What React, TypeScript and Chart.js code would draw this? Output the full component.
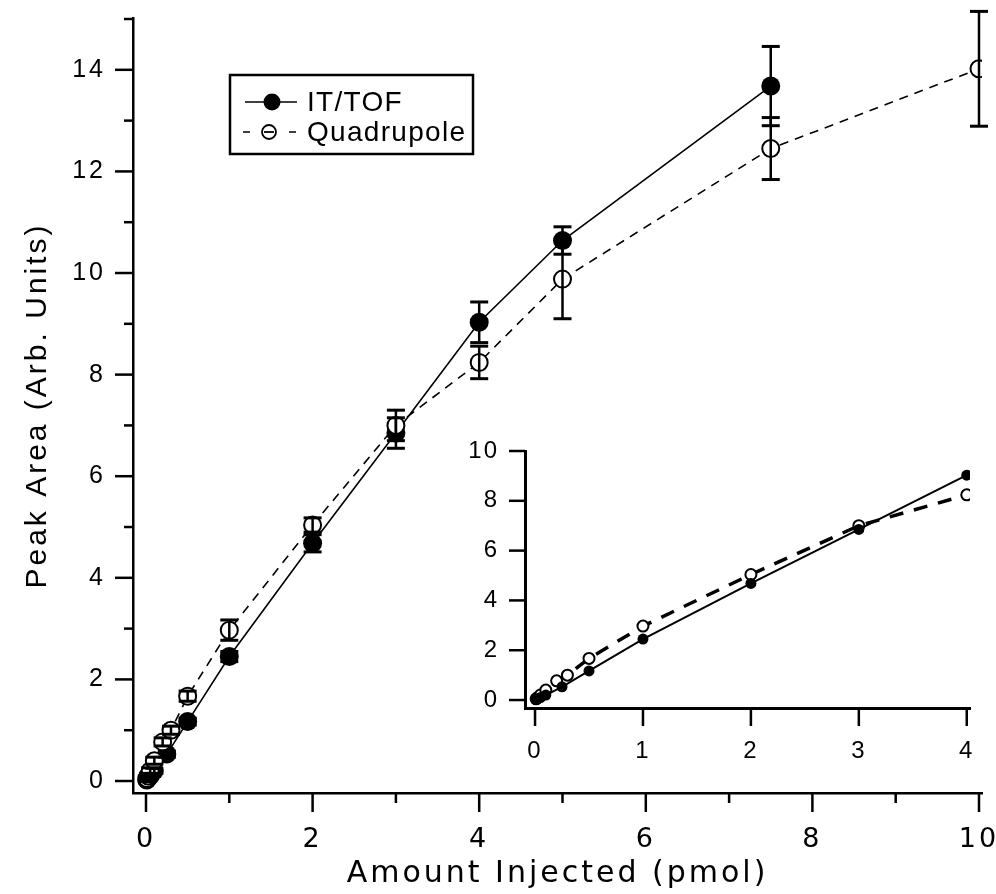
import React, { useEffect, useRef } from "react";
import { Chart, registerables } from "chart.js";

Chart.register(...registerables);

// ---- data ----
const seriesNames = ["IT/TOF", "Quadrupole"];
const xTitle = "Amount Injected (pmol)";
const yTitle = "Peak Area (Arb. Units)";

const amountItTof = [0.01, 0.025, 0.05, 0.1, 0.25, 0.5, 1, 2, 3, 4, 5, 7.5];
const areaItTof = [0.02, 0.06, 0.1, 0.2, 0.53, 1.17, 2.45, 4.68, 6.85, 9.03, 10.64, 13.68];
const errItTof = [0.03, 0.03, 0.04, 0.05, 0.06, 0.07, 0.1, 0.17, 0.3, 0.4, 0.27, 0.78];

const amountQuad = [0.01, 0.025, 0.05, 0.1, 0.2, 0.3, 0.5, 1, 2, 3, 4, 5, 7.5, 10];
const areaQuad = [0.05, 0.1, 0.2, 0.4, 0.77, 1.0, 1.67, 2.97, 5.04, 7.0, 8.24, 9.88, 12.45, 14.02];
const errQuad = [0.05, 0.05, 0.06, 0.07, 0.08, 0.08, 0.1, 0.2, 0.14, 0.3, 0.32, 0.78, 0.61, 1.13];

const mainXMajor = [0, 2, 4, 6, 8, 10];
const mainXMinor = [1, 3, 5, 7, 9];
const mainYMajor = [0, 2, 4, 6, 8, 10, 12, 14];
const mainYMinor = [1, 3, 5, 7, 9, 11, 13, 15];

const insetXMajor = [0, 1, 2, 3, 4];
const insetYMajor = [0, 2, 4, 6, 8, 10];
const insetMaxAmount = 4;

const toPoints = (xs: number[], ys: number[]) => xs.map((x, i) => ({ x, y: ys[i] }));

// ---- plugins ----
const spacingPlugin = {
  id: "spacing",
  beforeDraw(chart: any, _a: any, opts: any) {
    chart.ctx.letterSpacing = (opts.px || 0) + "px";
  },
};

const tickMarksPlugin = {
  id: "tickMarks",
  afterDraw(chart: any, _a: any, opts: any) {
    const ctx = chart.ctx;
    const area = chart.chartArea;
    const xs = chart.scales.x;
    const ys = chart.scales.y;
    ctx.save();
    ctx.strokeStyle = "#000";
    ctx.lineWidth = opts.width;
    ctx.lineCap = "butt";
    const drawX = (vals: number[], len: number) =>
      vals.forEach((v) => {
        const p = xs.getPixelForValue(v);
        ctx.beginPath();
        ctx.moveTo(p, area.bottom);
        ctx.lineTo(p, area.bottom + len);
        ctx.stroke();
      });
    const drawY = (vals: number[], len: number) =>
      vals.forEach((v) => {
        const p = ys.getPixelForValue(v);
        ctx.beginPath();
        ctx.moveTo(area.left, p);
        ctx.lineTo(area.left - len, p);
        ctx.stroke();
      });
    drawX(opts.xMajor || [], opts.xMajorLen);
    drawX(opts.xMinor || [], opts.xMinorLen);
    drawY(opts.yMajor || [], opts.yMajorLen);
    drawY(opts.yMinor || [], opts.yMinorLen);
    ctx.restore();
  },
};

const errorBarsPlugin = {
  id: "errorBars",
  afterDatasetsDraw(chart: any, _a: any, opts: any) {
    if (!opts || !opts.enabled) return;
    const ctx = chart.ctx;
    const ys = chart.scales.y;
    ctx.save();
    ctx.strokeStyle = "#000";
    chart.data.datasets.forEach((ds: any, i: number) => {
      const errs: number[] | undefined = ds.errors;
      if (!errs) return;
      const meta = chart.getDatasetMeta(i);
      meta.data.forEach((pt: any, j: number) => {
        const v = ds.data[j].y;
        const e = errs[j];
        const top = ys.getPixelForValue(v + e);
        const bot = ys.getPixelForValue(v - e);
        ctx.lineWidth = opts.lineWidth;
        ctx.beginPath();
        ctx.moveTo(pt.x, top);
        ctx.lineTo(pt.x, bot);
        ctx.stroke();
        ctx.lineWidth = opts.capWidth;
        [top, bot].forEach((yy) => {
          ctx.beginPath();
          ctx.moveTo(pt.x - opts.capHalf, yy);
          ctx.lineTo(pt.x + opts.capHalf, yy);
          ctx.stroke();
        });
      });
    });
    ctx.restore();
  },
};

const legendPlugin = {
  id: "boxLegend",
  afterDraw(chart: any, _a: any, opts: any) {
    if (!opts || !opts.enabled) return;
    const ctx = chart.ctx;
    const a = chart.chartArea;
    const bx = a.left + 97;
    const by = a.top + 57;
    const bw = 243;
    const bh = 79;
    ctx.save();
    ctx.letterSpacing = "1.3px";
    ctx.strokeStyle = "#000";
    ctx.lineWidth = 2.5;
    ctx.strokeRect(bx, by, bw, bh);
    const r1 = by + 27;
    const r2 = by + 57;
    // IT/TOF sample
    ctx.lineWidth = 1.5;
    ctx.beginPath();
    ctx.moveTo(bx + 15, r1);
    ctx.lineTo(bx + 67, r1);
    ctx.stroke();
    ctx.fillStyle = "#000";
    ctx.beginPath();
    ctx.arc(bx + 42, r1, 8.5, 0, Math.PI * 2);
    ctx.fill();
    // Quadrupole sample
    ctx.beginPath();
    ctx.moveTo(bx + 13, r2);
    ctx.lineTo(bx + 20, r2);
    ctx.moveTo(bx + 59, r2);
    ctx.lineTo(bx + 66, r2);
    ctx.stroke();
    ctx.lineWidth = 1.8;
    ctx.beginPath();
    ctx.arc(bx + 39, r2, 7, 0, Math.PI * 2);
    ctx.stroke();
    ctx.beginPath();
    ctx.moveTo(bx + 34, r2);
    ctx.lineTo(bx + 44, r2);
    ctx.stroke();
    ctx.font = "28px 'Liberation Sans', Arial, sans-serif";
    ctx.textBaseline = "middle";
    ctx.textAlign = "left";
    ctx.fillText(seriesNames[0], bx + 77, r1 + 1);
    ctx.fillText(seriesNames[1], bx + 77, r2 + 1);
    ctx.restore();
  },
};

function forceBox(width?: number, height?: number) {
  return (scale: any) => {
    if (width !== undefined) scale.width = width;
    if (height !== undefined) scale.height = height;
    scale.paddingLeft = 0;
    scale.paddingRight = 0;
    scale.paddingTop = 0;
    scale.paddingBottom = 0;
  };
}

const setTicks = (vals: number[]) => (scale: any) => {
  scale.ticks = vals.map((v) => ({ value: v }));
};

export default function App() {
  const mainRef = useRef<HTMLCanvasElement>(null);
  const insetRef = useRef<HTMLCanvasElement>(null);

  useEffect(() => {
    const itPts = toPoints(amountItTof, areaItTof);
    const qPts = toPoints(amountQuad, areaQuad);

    const main = new Chart(mainRef.current!, {
      type: "line",
      data: {
        datasets: [
          {
            label: seriesNames[0],
            data: itPts,
            errors: errItTof,
            borderColor: "#000",
            borderWidth: 1.6,
            pointRadius: 9.5,
            pointBackgroundColor: "#000",
            pointBorderColor: "#000",
            pointBorderWidth: 0,
            order: 1,
          } as any,
          {
            label: seriesNames[1],
            data: qPts,
            errors: errQuad,
            borderColor: "#000",
            borderWidth: 1.6,
            borderDash: [9, 7],
            pointRadius: 8.5,
            pointBackgroundColor: "#fff",
            pointBorderColor: "#000",
            pointBorderWidth: 2,
            order: 0,
          } as any,
        ],
      },
      options: {
        animation: false,
        responsive: false,
        maintainAspectRatio: false,
        layout: { padding: { left: 0, top: 18, right: 14, bottom: 0 } },
        plugins: {
          legend: { display: false },
          tooltip: { enabled: false },
          spacing: { px: 3 },
          tickMarks: {
            width: 2.5,
            xMajor: mainXMajor,
            xMinor: mainXMinor,
            yMajor: mainYMajor,
            yMinor: mainYMinor,
            xMajorLen: 19,
            xMinorLen: 10,
            yMajorLen: 18,
            yMinorLen: 9,
          },
          errorBars: { enabled: true, lineWidth: 2.5, capWidth: 3, capHalf: 9 },
          boxLegend: { enabled: true },
        } as any,
        scales: {
          x: {
            type: "linear",
            min: -0.156,
            max: 10.036,
            afterFit: forceBox(undefined, 101),
            afterBuildTicks: setTicks(mainXMajor),
            grid: { display: false, drawTicks: false },
            border: { display: true, color: "#000", width: 2.5 },
            ticks: {
              color: "#000",
              padding: 31,
              maxRotation: 0,
              autoSkip: false,
              font: { family: "'DejaVu Sans', sans-serif", size: 27 },
              callback: (v: any) => String(v),
            },
            title: {
              display: true,
              text: xTitle,
              color: "#000",
              font: { family: "'DejaVu Sans', sans-serif", size: 30 },
              padding: { top: 0, bottom: 2 },
            },
          },
          y: {
            type: "linear",
            min: -0.236,
            max: 15.02,
            afterFit: forceBox(133, undefined),
            afterBuildTicks: setTicks(mainYMajor),
            grid: { display: false, drawTicks: false },
            border: { display: true, color: "#000", width: 2.5 },
            ticks: {
              color: "#000",
              padding: 27,
              autoSkip: false,
              font: { family: "'Liberation Sans', Arial, sans-serif", size: 25 },
              callback: (v: any) => String(v),
            },
            title: {
              display: true,
              text: yTitle,
              color: "#000",
              font: { family: "'Liberation Sans', Arial, sans-serif", size: 30 },
              padding: { top: 20, bottom: 0 },
            },
          },
        },
      } as any,
      plugins: [spacingPlugin, tickMarksPlugin, errorBarsPlugin, legendPlugin] as any,
    });

    const itInset = itPts.filter((p) => p.x <= insetMaxAmount);
    const qInset = qPts.filter((p) => p.x <= insetMaxAmount);

    const inset = new Chart(insetRef.current!, {
      type: "line",
      data: {
        datasets: [
          {
            label: seriesNames[0],
            data: itInset,
            borderColor: "#000",
            borderWidth: 2,
            pointRadius: 5.5,
            pointBackgroundColor: "#000",
            pointBorderColor: "#000",
            pointBorderWidth: 0,
            order: 0,
          } as any,
          {
            label: seriesNames[1],
            data: qInset,
            borderColor: "#000",
            borderWidth: 3.5,
            borderDash: [14, 11],
            pointRadius: 5.5,
            pointBackgroundColor: "#fff",
            pointBorderColor: "#000",
            pointBorderWidth: 2,
            order: 1,
          } as any,
        ],
      },
      options: {
        animation: false,
        responsive: false,
        maintainAspectRatio: false,
        layout: { padding: { left: 0, top: 16, right: 15, bottom: 0 } },
        plugins: {
          legend: { display: false },
          tooltip: { enabled: false },
          spacing: { px: 2 },
          tickMarks: {
            width: 2.5,
            xMajor: insetXMajor,
            yMajor: insetYMajor,
            xMajorLen: 18,
            xMinorLen: 0,
            yMajorLen: 16,
            yMinorLen: 0,
          },
          errorBars: { enabled: false },
          boxLegend: { enabled: false },
        } as any,
        scales: {
          x: {
            type: "linear",
            min: -0.093,
            max: 4.03,
            afterFit: forceBox(undefined, 67),
            afterBuildTicks: setTicks(insetXMajor),
            grid: { display: false, drawTicks: false },
            border: { display: true, color: "#000", width: 3 },
            ticks: {
              color: "#000",
              padding: 29,
              maxRotation: 0,
              autoSkip: false,
              font: { family: "'Liberation Sans', Arial, sans-serif", size: 24 },
              callback: (v: any) => String(v),
            },
          },
          y: {
            type: "linear",
            min: -0.32,
            max: 10,
            afterFit: forceBox(70, undefined),
            afterBuildTicks: setTicks(insetYMajor),
            grid: { display: false, drawTicks: false },
            border: { display: true, color: "#000", width: 3 },
            ticks: {
              color: "#000",
              padding: 26,
              autoSkip: false,
              font: { family: "'Liberation Sans', Arial, sans-serif", size: 24 },
              callback: (v: any) => String(v),
            },
          },
        },
      } as any,
      plugins: [spacingPlugin, tickMarksPlugin] as any,
    });

    return () => {
      main.destroy();
      inset.destroy();
    };
  }, []);

  return (
    <div
      style={{
        position: "fixed",
        left: 0,
        top: 0,
        width: 996,
        height: 894,
        background: "#fff",
      }}
    >
      <canvas ref={mainRef} width={996} height={894} style={{ position: "absolute", left: 0, top: 0 }} />
      <canvas ref={insetRef} width={530} height={340} style={{ position: "absolute", left: 455, top: 435 }} />
    </div>
  );
}
